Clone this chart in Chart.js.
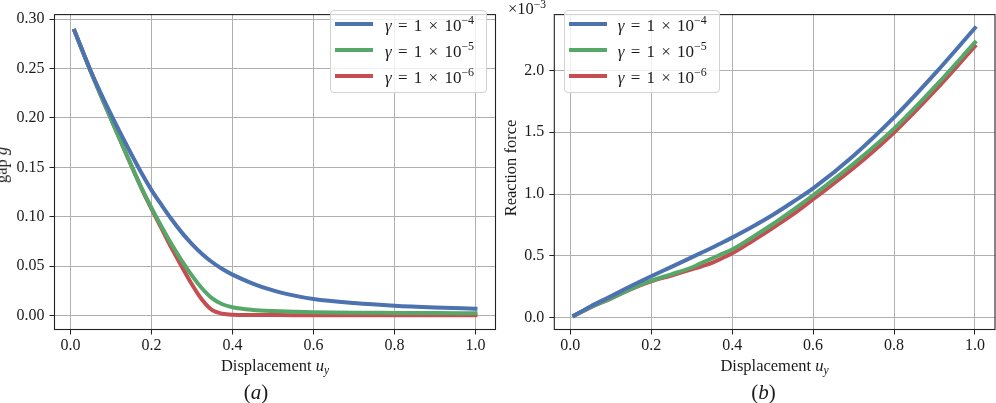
<!DOCTYPE html>
<html><head><meta charset="utf-8">
<script src="https://cdn.jsdelivr.net/npm/chart.js@4/dist/chart.umd.min.js"></script>
<style>
html,body{margin:0;padding:0;background:#fff;}
body{width:996px;height:403px;position:relative;overflow:hidden;font-family:'Liberation Serif',serif;color:#1a1a1a;}
.panel{position:absolute;top:0;width:498px;height:403px;}
.panel canvas{display:block;}
.txt{position:absolute;white-space:nowrap;font-size:16.5px;line-height:1;}
.xt{transform:translate(-50%,-50%);}
.yt{transform:translate(-50%,-50%) rotate(-90deg);}
.cap{font-size:21px;transform:translate(-50%,-50%);}
.legend{position:absolute;top:9.5px;height:83px;border:1px solid #d3d3d3;border-radius:4px;background:rgba(255,255,255,0.8);box-sizing:border-box;}
.lbar{position:absolute;width:38px;height:4px;}
.llab{position:absolute;font-size:17px;line-height:1;white-space:nowrap;word-spacing:2px;}
sup{font-size:0.7em;vertical-align:0.55em;line-height:0;}
sub{font-size:0.7em;vertical-align:-0.3em;line-height:0;}
</style></head>
<body>
<div class="panel" style="left:0"><canvas id="gapChart" width="498" height="403"></canvas></div>
<div class="panel" style="left:498px"><canvas id="forceChart" width="498" height="403"></canvas></div>

<div class="txt yt" style="left:2px;top:165px;">gap <i>g</i></div>
<div class="txt xt" style="left:275px;top:366px;">Displacement <i>u</i><sub><i>y</i></sub></div>
<div class="txt cap" style="left:256px;top:392px;">(<i>a</i>)</div>

<div class="txt yt" style="left:511px;top:168px;">Reaction force</div>
<div class="txt xt" style="left:774.5px;top:366px;">Displacement <i>u</i><sub><i>y</i></sub></div>
<div class="txt cap" style="left:763.5px;top:392px;">(<i>b</i>)</div>
<div class="txt" style="left:508px;top:1.4px;">×10<sup>−3</sup></div>

<div id="legendGap" class="legend" style="left:330px;width:157px;"></div>
<div id="legendForce" class="legend" style="left:563.7px;width:156px;"></div>

<script>
// ---------- data ----------
const xTicks = [0, 0.2, 0.4, 0.6, 0.8, 1.0];
const xTickLabels = ['0.0', '0.2', '0.4', '0.6', '0.8', '1.0'];
const gapTicks = [0, 0.05, 0.10, 0.15, 0.20, 0.25, 0.30];
const gapTickLabels = ['0.00', '0.05', '0.10', '0.15', '0.20', '0.25', '0.30'];
const forceTicks = [0, 0.5, 1.0, 1.5, 2.0];
const forceTickLabels = ['0.0', '0.5', '1.0', '1.5', '2.0'];
const gammaExponents = [-4, -5, -6];

const displacementGap = [0.01, 0.05, 0.1, 0.15, 0.175, 0.2, 0.225, 0.25, 0.275, 0.3, 0.325, 0.35, 0.375, 0.4, 0.45, 0.5, 0.55, 0.6, 0.7, 0.8, 0.9, 1.0];
const gapGamma4 = [0.288, 0.2475, 0.2035, 0.1635, 0.1445, 0.127, 0.1118, 0.0972, 0.084, 0.0724, 0.0624, 0.054, 0.0472, 0.0415, 0.0325, 0.0255, 0.0205, 0.0168, 0.0127, 0.0100, 0.0083, 0.0071];
const gapGamma5 = [0.288, 0.247, 0.199, 0.152, 0.1295, 0.109, 0.09, 0.072, 0.0555, 0.0405, 0.0275, 0.0175, 0.0115, 0.0085, 0.0058, 0.0046, 0.004, 0.0035, 0.003, 0.0028, 0.0026, 0.0025];
const gapGamma6 = [0.288, 0.247, 0.199, 0.152, 0.129, 0.108, 0.088, 0.068, 0.0495, 0.0315, 0.016, 0.0055, 0.002, 0.001, 0.0007, 0.0006, 0.0005, 0.0005, 0.0005, 0.0005, 0.0005, 0.0005];

// reaction force in units of 1e-3
const displacementForce = [0.01, 0.05, 0.1, 0.15, 0.2, 0.25, 0.3, 0.325, 0.35, 0.375, 0.4, 0.45, 0.5, 0.55, 0.6, 0.7, 0.8, 0.9, 1.0];
const forceGamma4 = [0.016, 0.09, 0.171, 0.255, 0.334, 0.41, 0.487, 0.526, 0.565, 0.605, 0.647, 0.735, 0.83, 0.935, 1.045, 1.31, 1.62, 1.97, 2.344];
const forceGamma5 = [0.016, 0.085, 0.155, 0.232, 0.298, 0.35, 0.405, 0.443, 0.478, 0.515, 0.55, 0.65, 0.755, 0.87, 0.99, 1.245, 1.529, 1.865, 2.227];
const forceGamma6 = [0.016, 0.082, 0.153, 0.23, 0.292, 0.34, 0.39, 0.415, 0.442, 0.48, 0.52, 0.62, 0.725, 0.835, 0.958, 1.21, 1.498, 1.832, 2.196];

// ---------- styling ----------
const COLORS = ['#4C72B0', '#55A868', '#C44E52'];
Chart.defaults.font.family = "'Liberation Serif', serif";
Chart.defaults.font.size = 16;
Chart.defaults.color = '#1a1a1a';

const framePlugin = {
  id: 'frame',
  afterDatasetsDraw(chart) {
    const {ctx, chartArea: a} = chart;
    ctx.save();
    ctx.strokeStyle = '#222';
    ctx.lineWidth = 1.1;
    ctx.strokeRect(a.left, a.top, a.right - a.left, a.bottom - a.top);
    ctx.restore();
  }
};

function toPoints(xs, ys) { return xs.map((x, i) => ({x: x, y: ys[i]})); }

function makeChart(id, xs, seriesList, yTicks, yLabels, yMin, yMax, yWidth, padRight) {
  const datasets = seriesList.map((ys, i) => ({
    label: 'γ = 1 × 10^' + gammaExponents[i],
    data: toPoints(xs, ys),
    borderColor: COLORS[i],
    backgroundColor: COLORS[i],
    borderWidth: 4,
    pointRadius: 0,
    fill: false,
    tension: 0.3,
    cubicInterpolationMode: 'monotone',
    borderCapStyle: 'square',
    borderJoinStyle: 'round'
  }));
  return new Chart(document.getElementById(id), {
    type: 'line',
    data: {datasets},
    options: {
      responsive: false,
      animation: false,
      devicePixelRatio: 1,
      layout: {padding: {top: 1, right: padRight, left: 0, bottom: 0}},
      plugins: {legend: {display: false}, tooltip: {enabled: false}},
      scales: {
        x: {
          type: 'linear', min: -0.0395, max: 1.0495,
          afterBuildTicks: s => { s.ticks = xTicks.map(v => ({value: v})); },
          afterFit: s => { s.height = 73.5; },
          ticks: {callback: (v, i) => xTickLabels[i], padding: 1.5, maxRotation: 0, autoSkip: false},
          grid: {color: '#b0b0b0', lineWidth: 1, tickLength: 5, tickColor: '#222', tickWidth: 1},
          border: {display: false}
        },
        y: {
          type: 'linear', min: yMin, max: yMax,
          afterBuildTicks: s => { s.ticks = yTicks.map(v => ({value: v})); },
          afterFit: s => { s.width = yWidth; },
          ticks: {callback: (v, i) => yLabels[i], padding: 5, autoSkip: false},
          grid: {color: '#b0b0b0', lineWidth: 1, tickLength: 5, tickColor: '#222', tickWidth: 1},
          border: {display: false}
        }
      }
    },
    plugins: [framePlugin]
  });
}

const gapChart = makeChart('gapChart', displacementGap, [gapGamma4, gapGamma5, gapGamma6],
  gapTicks, gapTickLabels, -0.014, 0.3045, 54.5, 2.5);
const forceChart = makeChart('forceChart', displacementForce, [forceGamma4, forceGamma5, forceGamma6],
  forceTicks, forceTickLabels, -0.097, 2.4525, 56.3, 1);

function buildLegend(chart, elId, barLeft, textLeft) {
  const box = document.getElementById(elId);
  chart.data.datasets.forEach((ds, i) => {
    const lineY = 24 + 26 * i;
    const bar = document.createElement('div');
    bar.className = 'lbar';
    bar.style.background = ds.borderColor;
    bar.style.left = barLeft + 'px';
    bar.style.top = (lineY - 2 - 10.5) + 'px';
    box.appendChild(bar);
    const lab = document.createElement('div');
    lab.className = 'llab';
    lab.style.left = textLeft + 'px';
    lab.style.top = (lineY - 7.2 - 10.5) + 'px';
    lab.innerHTML = '<i>γ</i> = 1 × 10<sup>−' + Math.abs(gammaExponents[i]) + '</sup>';
    box.appendChild(lab);
  });
}
buildLegend(gapChart, 'legendGap', 4, 54);
buildLegend(forceChart, 'legendForce', 4, 53);
</script>
</body></html>
